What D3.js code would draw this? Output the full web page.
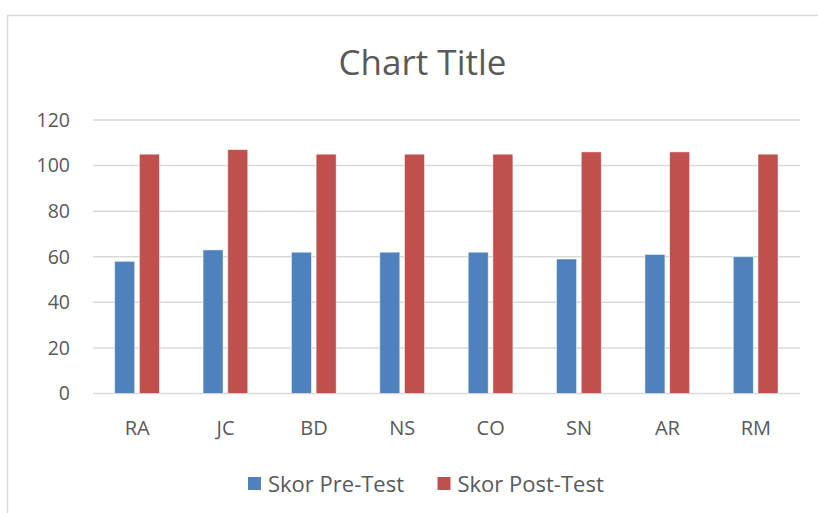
<!DOCTYPE html>
<html>
<head>
<meta charset="utf-8">
<script src="https://cdn.jsdelivr.net/npm/d3@7"></script>
<style>
  html, body { margin: 0; padding: 0; background: #fff; }
  svg { display: block; }
  text { font-family: "Open Sans", "Noto Sans", sans-serif; fill: #595959; }
</style>
</head>
<body>
<svg id="chart" width="818" height="513"></svg>
<script>
const categories = ["RA", "JC", "BD", "NS", "CO", "SN", "AR", "RM"];
const preTest  = [58, 63, 62, 62, 62, 59, 61, 60];
const postTest = [105, 107, 105, 105, 105, 106, 106, 105];
const seriesNames = ["Skor Pre-Test", "Skor Post-Test"];
const seriesColors = ["#4F81BD", "#C0504D"];
const yTicks = [0, 20, 40, 60, 80, 100, 120];

const svg = d3.select("#chart");

// chart frame
svg.append("rect")
  .attr("x", 7.5).attr("y", 15.5)
  .attr("width", 830).attr("height", 520)
  .attr("fill", "#fff").attr("stroke", "#D9D9D9").attr("stroke-width", 1.5);

const plot = { left: 93, right: 800, top: 120, bottom: 393.5 };

const x = d3.scaleBand().domain(categories).range([plot.left, plot.right]).padding(0);
const y = d3.scaleLinear().domain([0, 120]).range([plot.bottom, plot.top]);

// title
svg.append("text")
  .attr("x", 422.5).attr("y", 62.5)
  .attr("text-anchor", "middle").attr("dy", "0.35em")
  .style("font-size", "35px")
  .text("Chart Title");

// gridlines
svg.append("g").selectAll("line").data(yTicks).join("line")
  .attr("x1", plot.left).attr("x2", plot.right)
  .attr("y1", d => y(d)).attr("y2", d => y(d))
  .attr("stroke", "#D9D9D9").attr("stroke-width", 1.5);

// y axis labels
const yAxis = d3.axisLeft(y).tickValues(yTicks).tickSize(0).tickPadding(0);
const gy = svg.append("g").attr("transform", `translate(${plot.left - 23},0)`).call(yAxis);
gy.select(".domain").remove();
gy.selectAll("text").style("font-size", "19.5px").attr("fill", "#595959")
  .style("font-family", "\"Open Sans\", sans-serif");

// x axis labels
const xAxis = d3.axisBottom(x).tickSize(0).tickPadding(0);
const gx = svg.append("g").attr("transform", `translate(0,${plot.bottom + 34.5})`).call(xAxis);
gx.select(".domain").remove();
gx.selectAll("text").attr("y", 0).attr("dy", "0.35em")
  .style("font-size", "20px").attr("fill", "#595959")
  .style("font-family", "\"Open Sans\", sans-serif");

// bars
const barW = 20;
const data = categories.map((c, i) => ({ c, vals: [preTest[i], postTest[i]] }));
const offsets = [-22.5, 2.2];
const groups = svg.append("g").selectAll("g").data(data).join("g")
  .attr("transform", d => `translate(${x(d.c) + x.bandwidth() / 2},0)`);
groups.selectAll("rect").data(d => d.vals.map((v, s) => ({ v, s }))).join("rect")
  .attr("x", d => offsets[d.s])
  .attr("width", barW)
  .attr("y", d => y(d.v))
  .attr("height", d => y(0) - y(d.v))
  .attr("fill", d => seriesColors[d.s])
  .attr("stroke", "#ffffff").attr("stroke-opacity", 0.6).attr("stroke-width", 0.8);

// legend
const legendItems = [
  { name: seriesNames[0], color: seriesColors[0], x: 248 },
  { name: seriesNames[1], color: seriesColors[1], x: 437.5 }
];
const lg = svg.append("g").selectAll("g").data(legendItems).join("g")
  .attr("transform", d => `translate(${d.x},477)`);
lg.append("rect").attr("width", 13).attr("height", 13).attr("fill", d => d.color);
lg.append("text").attr("x", 20).attr("y", 7).attr("dy", "0.35em")
  .style("font-size", "22px").text(d => d.name);
</script>
</body>
</html>
